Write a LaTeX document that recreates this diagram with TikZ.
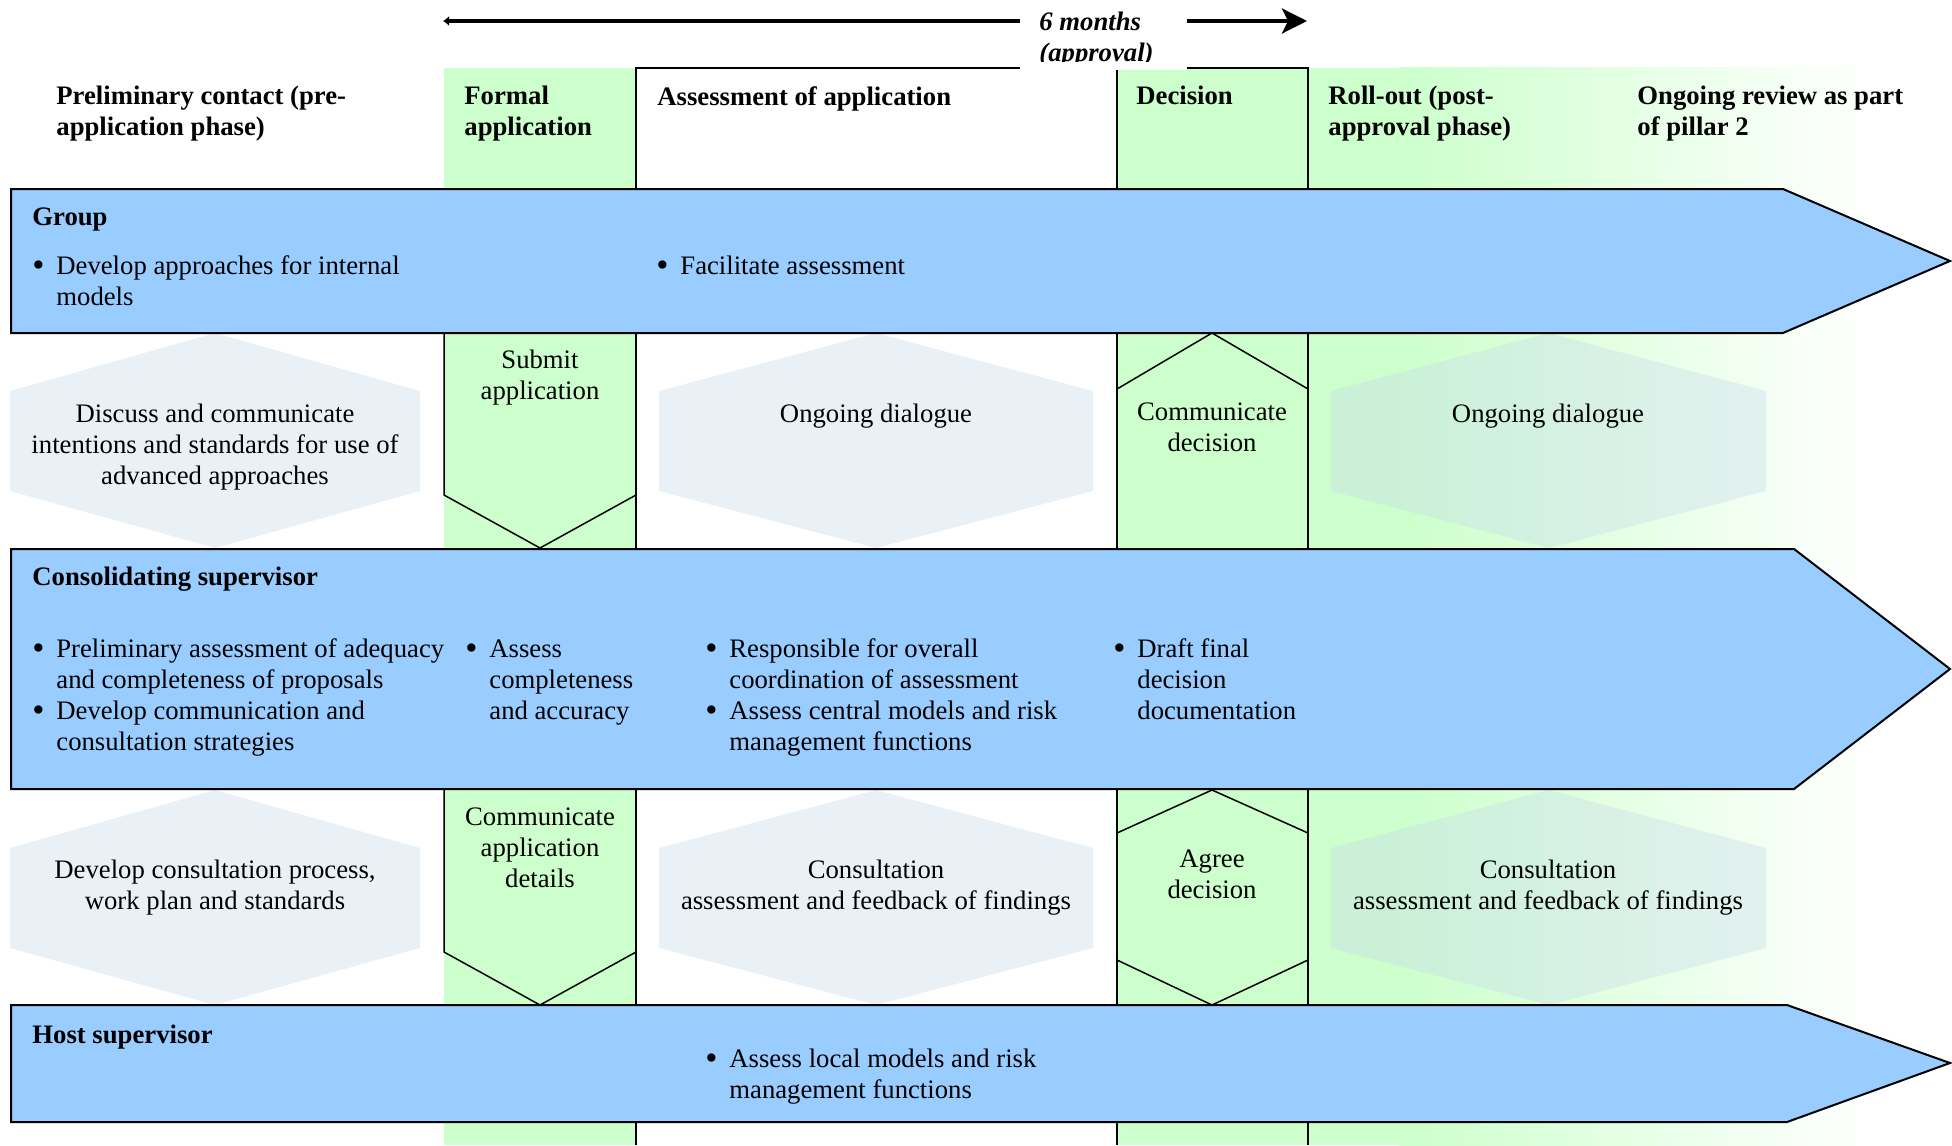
\documentclass[tikz,border=0pt]{standalone}
\usepackage{fontspec}
\usepackage{graphicx}
\setmainfont{Liberation Serif}
\usetikzlibrary{arrows.meta}
\definecolor{bandblue}{HTML}{99CCFF}
\definecolor{phasegreen}{HTML}{CCFFCC}
\definecolor{hexgrey}{RGB}{200,220,235}
\newcommand{\chartfont}{\fontsize{13.35}{15.5}\selectfont}
\newcommand{\blt}{\makebox[12pt][l]{\raisebox{-0.1em}{\scalebox{1.3}{\textbullet}}}}
\newcommand{\duties}[1]{\begin{tabular}[t]{@{}l@{}l@{}}#1\end{tabular}}

\begin{document}
\begin{tikzpicture}[x=0.5pt,y=-0.5pt,
  band/.style={draw=black,line width=1pt,fill=bandblue},
  rule/.style={draw=black,line width=0.75pt},
  hexfill/.style={fill=hexgrey,fill opacity=0.4},
  phase/.style={anchor=north west,inner sep=0pt,align=left,font=\chartfont\bfseries},
  actor/.style={anchor=north west,inner sep=0pt,font=\chartfont\bfseries},
  task/.style={anchor=north,inner sep=0pt,align=center,font=\chartfont},
  duty/.style={anchor=base west,inner sep=0pt,font=\chartfont}]
\useasboundingbox (0,0) rectangle (1952,1145);
\fill[phasegreen] (444,68) rectangle (636,1145);
\fill[phasegreen] (1117,68) rectangle (1400,1145);
\shade[left color=phasegreen,right color=white] (1400,68) rectangle (1870,1145);
\foreach \xl/\xr in {10/420,659/1093,1331/1766}
  \foreach \yt/\yb in {333/548,790/1005}
    \fill[hexfill] (\xl,\yt+58) -- ({(\xl+\xr)/2},\yt) -- (\xr,\yt+58) -- (\xr,\yb-57) -- ({(\xl+\xr)/2},\yb) -- (\xl,\yb-57) -- cycle;
\draw[rule] (636,1145) -- (636,68) -- (1308,68) -- (1308,1145);
\draw[rule] (1117,68) -- (1117,1145);
\draw[rule] (444,333) -- (444,495) -- (540,548) -- (636,495);
\draw[rule] (444,789) -- (444,952) -- (540,1005) -- (636,952);
\draw[rule] (1117,389) -- (1212,333) -- (1308,389);
\draw[rule] (1117,833) -- (1212,790) -- (1308,833) (1117,960) -- (1212,1005) -- (1308,960);
\draw[band] (11,189) -- (1783,189) -- (1950,261) -- (1783,333) -- (11,333) -- cycle;
\draw[band] (11,549) -- (1794,549) -- (1950,669) -- (1794,789) -- (11,789) -- cycle;
\draw[band] (11,1005) -- (1787,1005) -- (1950,1063) -- (1787,1122) -- (11,1122) -- cycle;
\coordinate (span l) at (443,21);
\coordinate (span r) at (1307,21);
\draw[line width=1.8pt,{Latex[length=3pt,width=5pt]}-{Stealth[length=12.5pt,width=12.5pt,inset=3pt]}] (span l) -- (span r);
\fill[white] (1020,0) rectangle (1187,70);
\begin{scope}
\clip (1020,0) rectangle (1187,62);
\node[anchor=north west,inner sep=0pt,align=left,font=\chartfont\bfseries\itshape] (span txt) at (1039,12) {6 months\\(approval)};
\end{scope}
\node[phase] (pre) at (56,86) {Preliminary contact (pre-\\application phase)};
\node[phase] (formal) at (464,86) {Formal\\application};
\node[phase] (assess) at (657,86) {Assessment of application};
\node[phase] (decide) at (1136,86) {Decision};
\node[phase] (rollout) at (1328,86) {Roll-out (post-\\approval phase)};
\node[phase] (review) at (1637,86) {Ongoing review as part\\of pillar 2};
\node[actor] (group) at (32,207) {Group};
\node[actor] (consol) at (32,567) {Consolidating supervisor};
\node[actor] (host) at (32,1025) {Host supervisor};
\node[duty] (group a) at (32,274) {\duties{\blt&Develop approaches for internal\\&models}};
\node[duty] (group b) at (656,274) {\duties{\blt&Facilitate assessment}};
\node[duty] (consol a) at (32,657) {\duties{\blt&Preliminary assessment of adequacy\\&and completeness of proposals\\\blt&Develop communication and\\&consultation strategies}};
\node[duty] (consol b) at (465,657) {\duties{\blt&Assess\\&completeness\\&and accuracy}};
\node[duty] (consol c) at (705,657) {\duties{\blt&Responsible for overall\\&coordination of assessment\\\blt&Assess central models and risk\\&management functions}};
\node[duty] (consol d) at (1113,657) {\duties{\blt&Draft final\\&decision\\&documentation}};
\node[duty] (host a) at (705,1067) {\duties{\blt&Assess local models and risk\\&management functions}};
\node[task] (discuss) at (215,404) {Discuss and communicate\\intentions and standards for use of\\advanced approaches};
\node[task] (submit) at (540,350) {Submit\\application};
\node[task] (dialogue a) at (876,404) {Ongoing dialogue};
\node[task] (tell) at (1212,402) {Communicate\\decision};
\node[task] (dialogue b) at (1548,404) {Ongoing dialogue};
\node[task] (process) at (215,860) {Develop consultation process,\\work plan and standards};
\node[task] (details) at (540,807) {Communicate\\application\\details};
\node[task] (consult a) at (876,860) {Consultation\\assessment and feedback of findings};
\node[task] (agree) at (1212,849) {Agree\\decision};
\node[task] (consult b) at (1548,860) {Consultation\\assessment and feedback of findings};
\end{tikzpicture}
\end{document}
